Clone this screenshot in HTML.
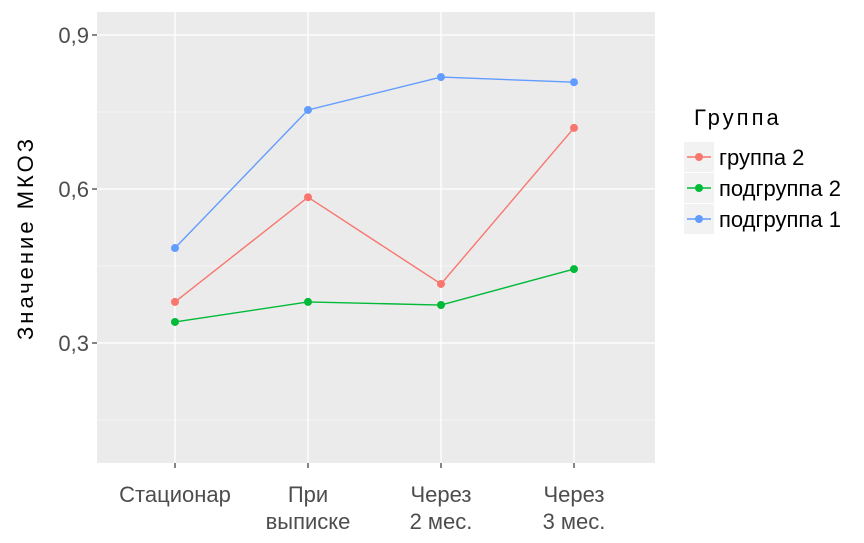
<!DOCTYPE html>
<html><head><meta charset="utf-8"><style>
body{margin:0;background:#fff;width:864px;height:538px;overflow:hidden}
svg{font-family:"Liberation Sans Narrow","Liberation Sans",sans-serif}
</style></head><body>
<svg id="chart" width="864" height="538"></svg>
<script>
const categories=["Стационар","При\nвыписке","Через\n2 мес.","Через\n3 мес."];
const seriesNames=["группа 2","подгруппа 2","подгруппа 1"];
const seriesColors=["#F8766D","#00BA38","#619CFF"];
const group2=[0.38,0.584,0.415,0.719];
const subgroup2=[0.341,0.38,0.374,0.444];
const subgroup1=[0.485,0.754,0.818,0.808];
const yTicks=[0.3,0.6,0.9];
const yTickLabels=["0,3","0,6","0,9"];
const yMinor=[0.15,0.45,0.75];
const svg=document.getElementById('chart');
const NS="http://www.w3.org/2000/svg";
const px0=97,px1=655,py0=12,py1=463;
function y(v){return 343-(v-0.3)*154/0.3;}
function x(i){return 175+i*133;}
function mk(t,a,p){const e=document.createElementNS(NS,t);for(const k in a)e.setAttribute(k,a[k]);(p||svg).appendChild(e);return e;}
const panel=mk('rect',{x:px0,y:py0,width:px1-px0,height:py1-py0,fill:'#EBEBEB'});


yMinor.forEach(v=>{const l=mk('line',{x1:px0,x2:px1,y1:y(v),y2:y(v),stroke:'#fff','stroke-width':0.6});

});
yTicks.forEach((v,i)=>{const l=mk('line',{x1:px0,x2:px1,y1:y(v),y2:y(v),stroke:'#fff','stroke-width':1.3});


const t=mk('line',{x1:px0-5,x2:px0,y1:y(v),y2:y(v),stroke:'#333','stroke-width':1.2});


const tx=mk('text',{x:px0-8,y:y(v)+8,'text-anchor':'end','font-size':22,fill:'#4d4d4d'});tx.textContent=yTickLabels[i];

});
categories.forEach((c,i)=>{const l=mk('line',{x1:x(i),x2:x(i),y1:py0,y2:py1,stroke:'#fff','stroke-width':1.3});


const t=mk('line',{x1:x(i),x2:x(i),y1:py1,y2:py1+5,stroke:'#333','stroke-width':1.2});


const tx=mk('text',{'text-anchor':'middle','font-size':22,fill:'#4d4d4d'});


c.split('\n').forEach((s,j)=>{const ts=mk('tspan',{x:x(i),y:502+j*27},tx);ts.textContent=s;});});
[group2,subgroup2,subgroup1].forEach((d,s)=>{
const p=mk('polyline',{points:d.map((v,i)=>x(i)+','+y(v)).join(' '),fill:'none',stroke:seriesColors[s],'stroke-width':1.4});


d.forEach((v,i)=>{const c=mk('circle',{cx:x(i),cy:y(v),r:4,fill:seriesColors[s]});

});});
const yt=mk('text',{transform:'translate(33,238) rotate(-90)','text-anchor':'middle','font-size':22,fill:'#000','letter-spacing':'3'});yt.textContent="Значение МКОЗ";


const lt=mk('text',{x:694,y:125,'font-size':22,fill:'#000','letter-spacing':'3'});lt.textContent="Группа";


seriesNames.forEach((n,i)=>{const cy=157+i*31;
const bg=mk('rect',{x:684,y:cy-15,width:30,height:30,fill:'#F2F2F2'});


mk('line',{x1:687,x2:711,y1:cy,y2:cy,stroke:seriesColors[i],'stroke-width':1.4});
mk('circle',{cx:699,cy:cy,r:4,fill:seriesColors[i]});
const t=mk('text',{x:719,y:cy+8,'font-size':22,fill:'#000'});t.textContent=n;

});
</script>
</body></html>
